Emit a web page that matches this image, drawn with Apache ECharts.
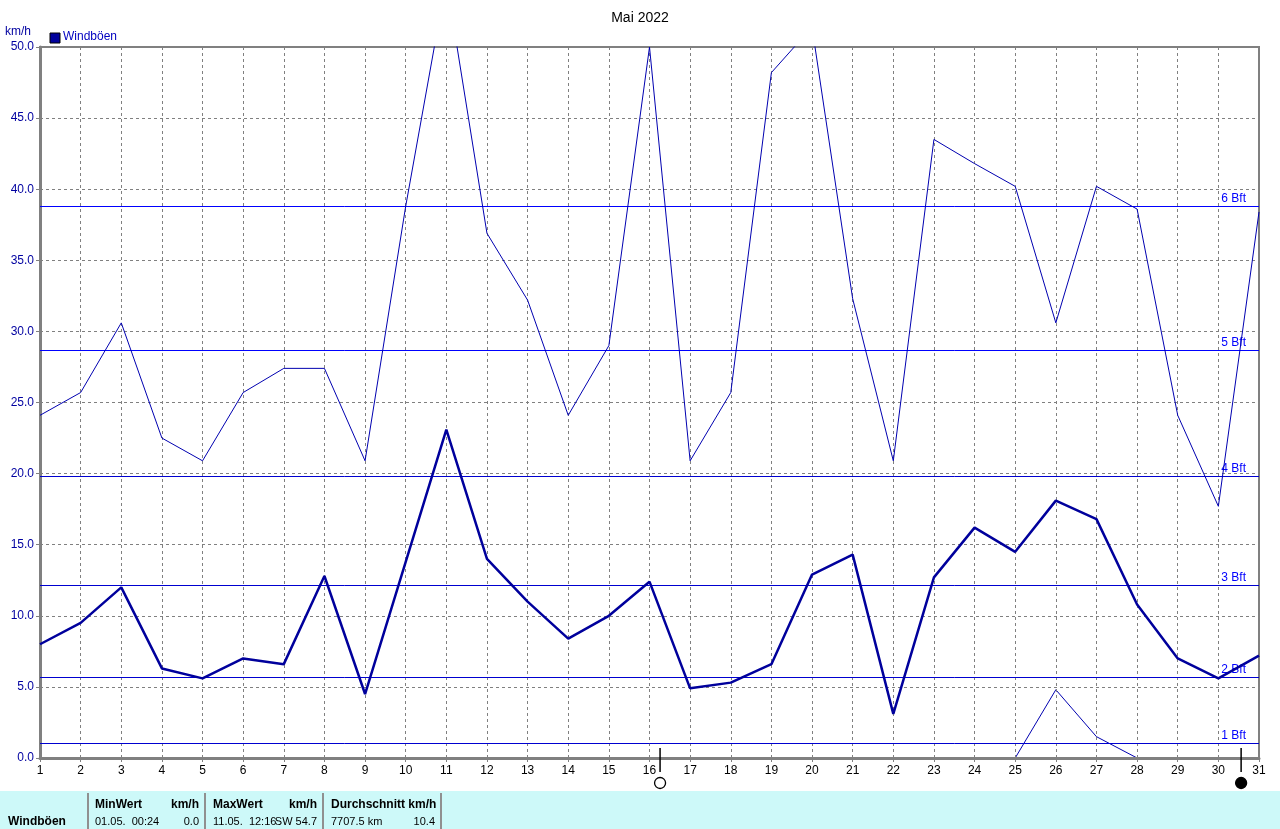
<!DOCTYPE html>
<html>
<head>
<meta charset="utf-8">
<script src="https://cdn.jsdelivr.net/npm/echarts@6/dist/echarts.min.js"></script>
<style>
html,body{margin:0;padding:0;background:#fff;}
#chart{width:1280px;height:829px;}
</style>
</head>
<body>
<div id="chart"></div>
<script>
// ---- data ----
var days = [1,2,3,4,5,6,7,8,9,10,11,12,13,14,15,16,17,18,19,20,21,22,23,24,25,26,27,28,29,30,31];
var gustMax = [24.1,25.7,30.6,22.5,20.9,25.7,27.4,27.4,20.9,38.8,54.7,36.9,32.2,24.1,29.0,50.0,20.9,25.7,48.2,51.4,32.3,20.9,43.5,41.8,40.2,30.6,40.2,38.6,24.1,17.7,38.4];
var gustMean = [8.0,9.5,12.0,6.3,5.6,7.0,6.6,12.8,4.5,13.8,23.1,14.0,11.0,8.4,10.0,12.4,4.9,5.3,6.6,12.9,14.3,3.1,12.7,16.2,14.5,18.1,16.8,10.8,7.0,5.6,7.2];
var gustMin = [0,0,0,0,0,0,0,0,0,0,0,0,0,0,0,0,0,0,0,0,0,0,0,0,0,4.8,1.5,0,0,0,0];
var bftLabels = ['1 Bft','2 Bft','3 Bft','4 Bft','5 Bft','6 Bft'];
var bftValues = [1.05,5.7,12.2,19.8,28.7,38.8];
var moonDays = [16.26, 30.56];
var moonTypes = ['full','new'];
var titleText = 'Mai 2022';
var seriesName = 'Windböen';
var unitText = 'km/h';
var tableHead = ['MinWert','km/h','MaxWert','km/h','Durchschnitt km/h'];
var tableRow = ['01.05.  00:24','0.0','11.05.  12:16','SW 54.7','7707.5 km','10.4'];

// ---- build ----
function pairs(vals){ return days.map(function(d,i){ return [d, vals[i]]; }); }
var FONT = 'Liberation Sans';
var chart = echarts.init(document.getElementById('chart'), null, {renderer:'canvas'});

var bftData = bftValues.map(function(v,i){ return [v, i]; });
var moonData = moonDays.map(function(d,i){ return [d, 0, moonTypes[i]]; });
var rowFont = '11px "Liberation Sans"';
var headFont = 'bold 12px "Liberation Sans"';

var option = {
  animation: false,
  backgroundColor: '#ffffff',
  textStyle: {fontFamily: FONT},
  title: {
    text: titleText, left: 'center', top: 6,
    textStyle: {fontFamily: FONT, fontSize: 14, fontWeight: 'normal', color: '#000'}
  },
  grid: {left: 40, right: 21, top: 47, bottom: 71, show: true, borderColor: '#808080', borderWidth: 2, backgroundColor: '#fff'},
  xAxis: {
    type: 'value', min: 1, max: 31, interval: 1, z: 1.5,
    axisLine: {lineStyle: {color: '#808080', width: 3}},
    axisTick: {show: true, length: 4, lineStyle: {color: '#808080'}},
    axisLabel: {color: '#000', fontSize: 12, fontFamily: FONT, margin: 7},
    splitLine: {show: true, lineStyle: {color: '#808080', type: [3,3], width: 1}}
  },
  yAxis: {
    type: 'value', min: 0, max: 50, interval: 5,
    axisLine: {show: true, lineStyle: {color: '#808080', width: 3}},
    axisTick: {show: true, length: 4, lineStyle: {color: '#808080'}},
    axisLabel: {color: '#0000a0', fontSize: 12, fontFamily: FONT, margin: 6, formatter: function(v){ return v.toFixed(1); }},
    splitLine: {show: true, lineStyle: {color: '#808080', type: [3,3], width: 1}}
  },
  series: [
    {
      type: 'custom', data: bftData, clip: false, z: 1.8, silent: true,
      renderItem: function(params, api){
        var v = api.value(0);
        var i = api.value(1);
        var a = api.coord([1, v]);
        var b = api.coord([31, v]);
        var y = Math.round(a[1]) + 0.5;
        return {
          type: 'group',
          children: [
            {type: 'line', shape: {x1: a[0], y1: y, x2: b[0], y2: y}, style: {stroke: i >= 4 ? '#0000ff' : '#0000d0', lineWidth: 1}},
            {type: 'text', style: {x: b[0] - 13, y: y - 2, text: bftLabels[i], textAlign: 'right', textVerticalAlign: 'bottom', fill: '#0000ff', font: '12px "Liberation Sans"'}}
          ]
        };
      }
    },
    {
      name: seriesName + ' min', type: 'line', data: pairs(gustMin), z: 1,
      symbol: 'none', lineStyle: {color: '#0000b0', width: 1}
    },
    {
      name: seriesName + ' max', type: 'line', data: pairs(gustMax),
      symbol: 'none', lineStyle: {color: '#0000b0', width: 1}
    },
    {
      name: seriesName, type: 'line', data: pairs(gustMean), z: 3,
      symbol: 'none', lineStyle: {color: '#00009c', width: 2.5}
    },
    {
      type: 'custom', data: moonData, clip: false, z: 5, silent: true,
      renderItem: function(params, api){
        var p = api.coord([api.value(0), 0]);
        var full = moonData[params.dataIndex][2] === 'full';
        return {
          type: 'group',
          children: [
            {type: 'line', shape: {x1: p[0], y1: p[1]-10, x2: p[0], y2: p[1]+14}, style: {stroke: '#000', lineWidth: 1.5}},
            {type: 'circle', shape: {cx: p[0], cy: p[1]+25, r: 5.5}, style: {fill: full ? '#fff' : '#000', stroke: '#000', lineWidth: 1.3}}
          ]
        };
      }
    }
  ],
  graphic: [
    {type: 'text', left: 5, top: 26, style: {text: unitText, fill: '#0000a0', font: '12px "Liberation Sans"'}},
    {type: 'rect', shape: {x: 50, y: 33, width: 10, height: 10}, style: {fill: '#00009c', stroke: '#000', lineWidth: 1}},
    {type: 'text', left: 63, top: 31, style: {text: seriesName, fill: '#0000c0', font: '12px "Liberation Sans"'}},
    // table
    {type: 'rect', shape: {x: 0, y: 791, width: 1280, height: 38}, style: {fill: '#cdf9f9'}, z: 0},
    {type: 'rect', shape: {x: 87, y: 793, width: 2, height: 36}, style: {fill: '#909090'}},
    {type: 'rect', shape: {x: 204, y: 793, width: 2, height: 36}, style: {fill: '#909090'}},
    {type: 'rect', shape: {x: 322, y: 793, width: 2, height: 36}, style: {fill: '#909090'}},
    {type: 'rect', shape: {x: 440, y: 793, width: 2, height: 36}, style: {fill: '#909090'}},
    {type: 'text', x: 8, y: 816, style: {text: seriesName, fill: '#000', font: headFont}},
    {type: 'text', x: 95, y: 799, style: {text: tableHead[0], fill: '#000', font: headFont}},
    {type: 'text', x: 199, y: 799, style: {text: tableHead[1], fill: '#000', font: headFont, textAlign: 'right'}},
    {type: 'text', x: 213, y: 799, style: {text: tableHead[2], fill: '#000', font: headFont}},
    {type: 'text', x: 317, y: 799, style: {text: tableHead[3], fill: '#000', font: headFont, textAlign: 'right'}},
    {type: 'text', x: 331, y: 799, style: {text: tableHead[4], fill: '#000', font: headFont}},
    {type: 'text', x: 95, y: 816, style: {text: tableRow[0], fill: '#000', font: rowFont}},
    {type: 'text', x: 199, y: 816, style: {text: tableRow[1], fill: '#000', font: rowFont, textAlign: 'right'}},
    {type: 'text', x: 213, y: 816, style: {text: tableRow[2], fill: '#000', font: rowFont}},
    {type: 'text', x: 317, y: 816, style: {text: tableRow[3], fill: '#000', font: rowFont, textAlign: 'right'}},
    {type: 'text', x: 331, y: 816, style: {text: tableRow[4], fill: '#000', font: rowFont}},
    {type: 'text', x: 435, y: 816, style: {text: tableRow[5], fill: '#000', font: rowFont, textAlign: 'right'}}
  ]
};
chart.setOption(option);
</script>
</body>
</html>
